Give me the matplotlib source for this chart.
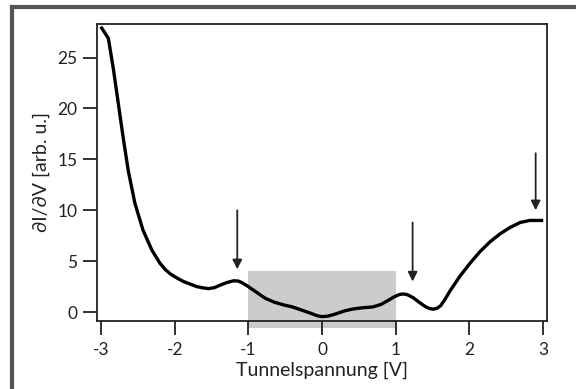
import numpy as np
import matplotlib.pyplot as plt
from matplotlib.lines import Line2D

# dI/dV Spektrum
x = [-2.99, -2.90, -2.83, -2.765, -2.70, -2.63, -2.54, -2.43, -2.31, -2.20,
     -2.13, -2.06, -1.97, -1.88, -1.79, -1.70, -1.62, -1.54, -1.46, -1.38,
     -1.29, -1.20, -1.14, -1.09, -1.01, -0.93, -0.85, -0.77, -0.64, -0.52,
     -0.40, -0.28, -0.16, -0.07, 0.00, 0.08, 0.18, 0.30, 0.42, 0.55,
     0.69, 0.80, 0.90, 0.98, 1.05, 1.10, 1.16, 1.24, 1.33, 1.41,
     1.46, 1.51, 1.56, 1.61, 1.67, 1.74, 1.87, 2.01, 2.14, 2.28, 2.42,
     2.55, 2.69, 2.82, 2.98]
y = [27.9, 26.9, 23.8, 20.5, 17.2, 13.9, 10.7, 8.05, 6.1, 4.8,
     4.2, 3.75, 3.35, 3.0, 2.75, 2.5, 2.38, 2.3, 2.4, 2.65,
     2.9, 3.07, 3.05, 2.9, 2.55, 2.15, 1.75, 1.35, 0.95, 0.7,
     0.5, 0.2, -0.1, -0.35, -0.45, -0.4, -0.2, 0.1, 0.3, 0.42,
     0.5, 0.75, 1.15, 1.5, 1.72, 1.78, 1.7, 1.4, 0.9, 0.5,
     0.35, 0.28, 0.36, 0.62, 1.25, 2.1, 3.5, 4.8, 5.9, 6.9, 7.7,
     8.3, 8.8, 9.0, 9.0]

# Pfeile: x, Anfang, Spitze
arrow_x = [-1.15, 1.23, 2.9]
arrow_top = [10.0, 8.8, 15.6]
arrow_tip = [4.2, 3.0, 10.0]

# Bandluecke
gap_lo, gap_hi = -1.0, 1.0
gap_bottom, gap_top = -1.6, 4.0

plt.rcParams['font.family'] = ['Lato', 'DejaVu Sans']

fig = plt.figure(figsize=(5.76, 3.89), dpi=100)
ax = fig.add_axes([97/576, 1-321/389, 450/576, 297/389])

ax.add_patch(plt.Rectangle((gap_lo, gap_bottom), gap_hi-gap_lo, gap_top-gap_bottom,
                           facecolor='#cccccc', edgecolor='none', clip_on=False, zorder=0))
ax.plot(x, y, color='black', lw=2.4, solid_joinstyle='round', zorder=3)

for ax_, t, b in zip(arrow_x, arrow_top, arrow_tip):
    ax.annotate('', xy=(ax_, b), xytext=(ax_, t),
                arrowprops=dict(arrowstyle='-|>', color='#222222', lw=1.3,
                                mutation_scale=14, shrinkA=0, shrinkB=0))

ax.set_xlim(-3.054, 3.054)
ax.set_ylim(-0.88, 28.3)
ax.set_xticks([-3, -2, -1, 0, 1, 2, 3])
ax.set_xticklabels(['-3', '-2', '-1', '0', '1', '2', '3'])
ax.set_yticks([0, 5, 10, 15, 20, 25])
ax.tick_params(direction='out', length=10, width=1.3, color='#222222',
               labelsize=12.5, labelcolor='#222222')
ax.tick_params(axis='x', pad=5)
ax.tick_params(axis='y', pad=4)
for s in ax.spines.values():
    s.set_linewidth(1.3)
    s.set_color('#222222')

ax.set_xlabel('Tunnelspannung [V]', fontsize=14, color='#222222', labelpad=3)
ax.set_ylabel('∂I/∂V [arb. u.]', fontsize=14, color='#222222', labelpad=5)

# Rahmen oben und links
fig.add_artist(Line2D([12/576, 1], [1-7/389, 1-7/389], color='#555555', lw=3))
fig.add_artist(Line2D([12/576, 12/576], [0, 1-7/389], color='#555555', lw=3))

fig.savefig('out.png', dpi=100)
